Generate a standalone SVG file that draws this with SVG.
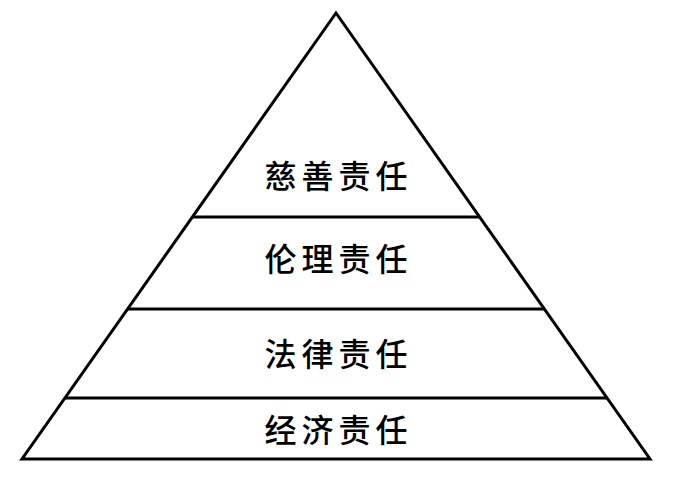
<svg xmlns="http://www.w3.org/2000/svg" width="673" height="477" viewBox="0 0 673 477">
<style>
.ln{stroke:#000;stroke-width:3;fill:none;stroke-linejoin:miter}
.t{font-family:"Noto Sans CJK SC","Noto Sans CJK JP",sans-serif;font-size:32px;font-weight:500;text-anchor:middle;letter-spacing:5px;fill:#000}
</style>
<rect width="673" height="477" fill="#fff"/>
<g id="pyramid">
<polygon class="ln" points="336,13 650,459 22,459"/>
</g>
<g id="connectors">
<line class="ln" x1="192" y1="217" x2="480" y2="217"/>
<line class="ln" x1="127" y1="309" x2="545" y2="309"/>
<line class="ln" x1="65" y1="398" x2="607" y2="398"/>
</g>
<g id="level4"><text class="t" x="338.5" y="188">慈善责任</text></g>
<g id="level3"><text class="t" x="338.5" y="271">伦理责任</text></g>
<g id="level2"><text class="t" x="338.5" y="366">法律责任</text></g>
<g id="level1"><text class="t" x="338.5" y="442">经济责任</text></g>
</svg>
